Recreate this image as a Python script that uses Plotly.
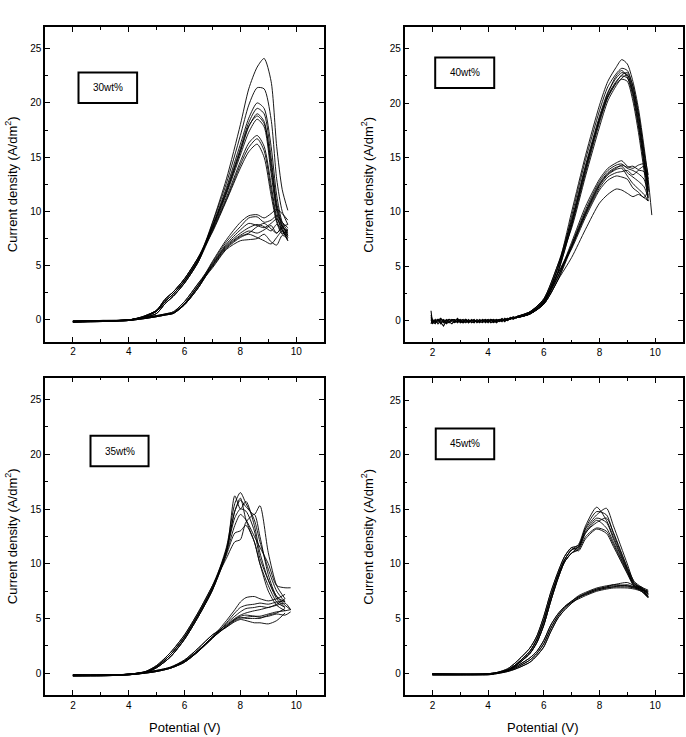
import plotly.graph_objects as go

# ---------------- data ----------------
# 30 wt%
x30 = [2.0, 3.0, 4.0, 4.5, 5.0, 5.3, 5.6, 6.0, 6.5, 7.0, 7.5, 8.0, 8.3, 8.6, 8.85, 9.1, 9.3, 9.5, 9.7]
pre30_up = [[-0.15, -0.1, 0.0, 0.25, 0.8, 1.7, 2.4, 3.6, 5.6],
            [-0.2, -0.1, -0.05, 0.2, 0.6, 1.5, 2.2, 3.4, 5.4],
            [-0.1, -0.05, 0.0, 0.3, 0.9, 1.9, 2.6, 3.8, 5.8]]
tail30_up = [[9.0, 13.0, 18.0, 21.3, 23.3, 24.1, 22.0, 16.0, 12.0, 10.1],
             [8.9, 12.6, 17.0, 19.8, 21.4, 21.3, 18.5, 13.0, 10.0, 8.8],
             [8.7, 12.2, 16.2, 18.6, 20.0, 19.5, 16.0, 11.5, 9.0, 8.2],
             [8.6, 12.0, 15.8, 18.2, 19.5, 19.0, 15.0, 10.8, 8.8, 7.8],
             [8.5, 11.8, 15.5, 17.8, 19.0, 18.3, 14.0, 10.3, 8.5, 7.6],
             [8.4, 11.6, 15.2, 17.3, 18.5, 17.8, 13.5, 10.0, 8.2, 8.0],
             [8.3, 11.3, 14.6, 16.3, 17.0, 16.0, 12.5, 9.5, 8.3, 7.3],
             [8.2, 11.1, 14.3, 15.9, 16.7, 15.6, 12.0, 9.2, 8.0, 7.8],
             [8.1, 11.0, 14.0, 15.5, 16.2, 15.0, 11.5, 9.0, 7.9, 8.4],
             [8.6, 11.8, 15.6, 17.9, 18.8, 18.1, 14.5, 10.5, 8.7, 8.1]]
pre30_lo = [[-0.15, -0.1, 0.0, 0.15, 0.35, 0.5, 0.65, 1.5, 3.2],
            [-0.2, -0.15, -0.05, 0.1, 0.3, 0.45, 0.6, 1.4, 3.0],
            [-0.1, -0.1, 0.0, 0.2, 0.4, 0.55, 0.75, 1.7, 3.4]]
tail30_lo = [[5.4, 7.4, 9.0, 9.6, 9.7, 9.4, 9.8, 10.2, 9.8, 9.2],
             [5.3, 7.2, 8.6, 9.4, 9.5, 9.0, 9.2, 9.6, 9.0, 8.5],
             [5.2, 7.0, 8.3, 8.9, 8.7, 8.5, 8.9, 9.3, 8.6, 8.0],
             [5.1, 6.9, 8.0, 8.5, 8.8, 8.6, 8.2, 8.8, 8.3, 7.6],
             [5.0, 6.8, 7.8, 8.2, 8.0, 8.3, 8.7, 8.0, 8.5, 7.8],
             [4.9, 6.6, 7.6, 7.9, 7.6, 7.3, 7.0, 7.6, 8.2, 7.3],
             [4.8, 6.5, 7.3, 7.4, 7.5, 7.9, 7.2, 6.9, 7.8, 7.5],
             [5.0, 6.7, 7.7, 8.0, 8.6, 8.9, 8.4, 8.0, 8.6, 8.8]]

# 40 wt%
x40_base = [1.95, 2.0, 2.1, 2.2, 2.3, 2.4, 2.5, 2.6, 2.7, 2.8, 2.9, 3.0, 3.1, 3.2, 3.3, 3.4,
            3.5, 3.6, 3.7, 3.8, 3.9, 4.0, 4.1, 4.2, 4.3, 4.4, 4.5, 4.6, 4.7, 4.8, 4.9, 5.0]
base40 = [[0.9, -0.2, 0.1, -0.3, 0.0, -0.2, 0.1, -0.1, -0.3, 0.0, 0.1, -0.2, -0.1, 0.0, -0.2, 0.1,
           -0.1, 0.0, -0.2, 0.1, -0.1, 0.0, -0.2, 0.0, 0.1, -0.1, 0.0, 0.1, 0.2, 0.1, 0.3, 0.3],
          [0.3, -0.1, -0.3, 0.1, -0.2, -0.5, 0.0, 0.1, -0.1, -0.2, 0.0, 0.1, -0.2, -0.1, 0.1, -0.2,
           0.0, -0.1, 0.1, -0.1, 0.0, -0.2, 0.1, -0.1, 0.0, 0.1, -0.1, 0.2, 0.0, 0.2, 0.2, 0.35],
          [-0.3, 0.1, -0.1, 0.0, 0.2, -0.1, -0.2, 0.1, 0.0, -0.1, 0.2, -0.1, 0.0, 0.1, -0.1, 0.0,
           0.1, -0.2, 0.0, 0.0, 0.1, -0.1, 0.0, 0.1, -0.1, 0.0, 0.2, 0.0, 0.1, 0.3, 0.2, 0.25],
          [0.5, 0.0, -0.2, -0.1, 0.1, 0.0, -0.3, -0.1, 0.1, 0.1, -0.2, 0.0, 0.1, -0.2, 0.0, -0.1,
           -0.2, 0.1, -0.1, -0.2, 0.0, 0.1, -0.1, -0.2, 0.0, 0.1, 0.1, -0.1, 0.2, 0.1, 0.35, 0.2],
          [0.1, -0.3, 0.0, 0.1, -0.3, 0.1, -0.1, -0.2, 0.1, -0.1, -0.1, 0.0, -0.2, 0.1, -0.2, 0.0,
           0.0, -0.1, -0.1, 0.1, -0.2, 0.0, 0.1, 0.0, -0.2, 0.0, 0.0, 0.1, 0.0, 0.25, 0.1, 0.3]]
x40 = [5.0, 5.5, 6.0, 6.5, 7.0, 7.5, 8.0, 8.3, 8.6, 8.8, 9.0, 9.2, 9.4, 9.6, 9.75, 9.88]
pre40_up = [[0.3, 0.7, 1.8, 4.8], [0.25, 0.6, 1.6, 4.4], [0.35, 0.8, 2.0, 5.1]]
tail40_up = [[10.0, 15.2, 19.8, 22.0, 23.3, 24.0, 23.6, 22.0, 19.5, 16.0, 13.0, 9.7],
             [9.6, 14.8, 19.3, 21.5, 22.7, 23.2, 23.0, 21.5, 19.0, 15.5, 12.5, None],
             [9.3, 14.3, 18.8, 21.0, 22.3, 22.8, 22.6, 21.0, 18.3, 14.8, 11.8, None],
             [9.0, 14.0, 18.5, 20.7, 22.0, 22.5, 22.3, 20.6, 17.8, 14.3, 11.3, None],
             [8.7, 13.6, 18.2, 20.5, 21.8, 22.2, 22.0, 20.2, 17.3, 13.8, 11.0, None],
             [8.5, 13.3, 17.8, 20.2, 21.6, 22.3, 22.6, 21.2, 18.6, 15.0, 12.0, None],
             [9.1, 14.1, 18.6, 20.9, 22.5, 23.0, 22.4, 20.9, 18.0, 14.6, 12.2, None],
             [8.8, 13.8, 18.4, 20.6, 21.9, 22.6, 22.8, 21.6, 19.0, 15.5, 13.4, None]]
pre40_lo = [[0.3, 0.7, 1.7, 4.0], [0.25, 0.6, 1.5, 3.7], [0.35, 0.8, 1.9, 4.3]]
tail40_lo = [[7.2, 10.5, 13.0, 14.0, 14.5, 14.7, 14.2, 14.0, 14.3, 14.4, 12.0, None],
             [7.0, 10.2, 12.8, 13.8, 14.3, 14.4, 14.0, 13.8, 13.5, 13.0, 11.5, None],
             [6.9, 10.0, 12.6, 13.6, 14.1, 14.2, 13.6, 13.2, 12.8, 12.3, 11.3, None],
             [6.8, 9.8, 12.4, 13.4, 13.9, 14.0, 13.3, 12.6, 12.1, 11.6, 11.0, None],
             [6.7, 9.7, 12.2, 13.2, 13.6, 13.7, 13.8, 13.4, 13.8, 13.7, 12.5, None],
             [6.6, 9.5, 12.0, 12.9, 13.3, 13.2, 13.0, 12.2, 11.8, 11.3, 12.0, None],
             [6.9, 9.9, 12.5, 13.5, 14.0, 14.3, 14.1, 14.2, 13.9, 14.2, 13.0, None],
             [5.8, 8.4, 10.8, 11.6, 12.1, 12.0, 11.7, 11.4, 11.6, 11.3, 11.0, None]]

# 35 wt%
x35 = [2.0, 3.0, 4.0, 4.6, 5.0, 5.5, 6.0, 6.5, 7.0, 7.5, 7.8, 8.0, 8.2, 8.5, 8.7, 9.0, 9.3, 9.6, 9.8]
pre35_up = [[-0.2, -0.2, -0.1, 0.1, 0.6, 1.7, 3.3, 5.4, 7.8],
            [-0.25, -0.25, -0.15, 0.05, 0.5, 1.5, 3.1, 5.2, 7.6],
            [-0.15, -0.2, -0.1, 0.15, 0.7, 1.9, 3.5, 5.6, 8.0]]
tail35_up = [[11.5, 15.5, 16.5, 15.5, 14.0, 12.0, 9.5, 7.5, 6.5, None],
             [11.3, 14.8, 15.8, 15.2, 14.5, 15.3, 11.0, 8.0, 6.8, None],
             [11.2, 14.2, 15.0, 14.8, 13.0, 10.5, 8.5, 7.0, 6.2, 5.8],
             [11.0, 13.5, 14.5, 14.0, 12.5, 11.5, 10.0, 8.0, 7.8, 7.8],
             [10.8, 12.8, 13.0, 13.5, 12.0, 10.0, 8.0, 6.5, 6.0, None],
             [10.5, 12.0, 12.2, 13.8, 14.5, 12.5, 9.0, 7.0, 6.5, None],
             [11.2, 14.8, 16.0, 14.0, 12.0, 10.0, 7.5, 6.2, 5.7, None],
             [11.0, 16.2, 15.0, 15.7, 13.5, 11.0, 8.5, 6.8, 6.0, None]]
pre35_lo = [[-0.2, -0.2, -0.1, 0.05, 0.2, 0.5, 1.1, 2.1, 3.3],
            [-0.25, -0.2, -0.15, 0.0, 0.15, 0.45, 1.0, 2.0, 3.2],
            [-0.15, -0.15, -0.1, 0.1, 0.25, 0.55, 1.2, 2.3, 3.5]]
tail35_lo = [[4.8, 5.8, 6.5, 6.9, 7.0, 6.8, 6.6, 6.8, 7.2, None],
             [4.6, 5.5, 6.0, 6.2, 6.3, 6.4, 6.3, 6.5, 6.6, None],
             [4.4, 5.0, 5.3, 5.5, 5.7, 5.8, 6.0, 6.2, 6.4, 5.8],
             [4.2, 4.8, 5.0, 5.1, 5.2, 5.2, 5.4, 5.6, 5.7, 5.8],
             [4.3, 4.9, 5.1, 5.0, 5.0, 5.0, 5.3, 5.5, 5.9, None],
             [4.2, 4.7, 4.9, 4.8, 4.6, 4.6, 4.5, 4.8, 5.5, None],
             [4.5, 5.2, 5.6, 5.9, 6.0, 6.1, 6.0, 6.3, 6.8, None],
             [4.3, 4.9, 5.2, 5.3, 5.2, 5.1, 5.2, 5.4, 5.3, 5.6]]

# 45 wt%
x45 = [2.0, 3.0, 4.0, 4.3, 4.7, 5.0, 5.5, 5.75, 6.0, 6.25, 6.5, 6.75, 7.0,
       7.25, 7.5, 7.9, 8.25, 8.5, 9.0, 9.25, 9.5, 9.75]
pre45_up = [[-0.1, -0.1, -0.1, 0.0, 0.3, 0.8, 2.0, 3.1, 4.8, 7.0, 8.9, 10.4, 11.3],
            [-0.15, -0.15, -0.1, 0.0, 0.25, 0.7, 1.8, 2.8, 4.4, 6.6, 8.6, 10.2, 11.0],
            [-0.05, -0.1, -0.05, 0.05, 0.4, 1.0, 2.3, 3.4, 5.2, 7.4, 9.2, 10.7, 11.5]]
tail45_up = [[11.8, 13.5, 15.2, 14.0, 12.5, 9.5, 8.2, 7.8, 7.2],
             [11.6, 13.2, 14.5, 15.1, 13.5, 10.0, 8.3, 7.8, 7.5],
             [11.7, 13.0, 14.2, 13.8, 12.3, 9.4, 8.0, 7.7, 7.0],
             [11.5, 12.8, 14.0, 13.3, 12.0, 9.3, 8.1, 7.9, 7.3],
             [11.3, 12.5, 13.3, 13.0, 11.8, 9.2, 8.0, 7.6, 6.9],
             [11.2, 12.3, 13.2, 12.8, 11.6, 9.1, 7.9, 7.5, 7.0],
             [11.6, 13.3, 14.8, 14.5, 12.8, 9.6, 8.2, 7.7, 7.4],
             [11.4, 12.9, 13.8, 14.2, 12.9, 9.7, 8.4, 7.9, 7.6]]
pre45_lo = [[-0.1, -0.1, -0.1, 0.0, 0.2, 0.5, 1.2, 1.8, 2.7, 4.1, 5.2, 6.0, 6.5],
            [-0.15, -0.15, -0.15, -0.05, 0.15, 0.4, 1.0, 1.6, 2.4, 3.8, 5.0, 5.8, 6.4],
            [-0.05, -0.1, -0.05, 0.05, 0.25, 0.6, 1.4, 2.0, 3.0, 4.4, 5.4, 6.1, 6.6]]
tail45_lo = [[7.0, 7.3, 7.7, 7.9, 8.0, 8.0, 7.9, 7.6, 7.1],
             [6.9, 7.2, 7.6, 7.8, 7.9, 7.9, 7.8, 7.7, 7.3],
             [7.1, 7.4, 7.8, 8.0, 8.1, 8.3, 8.0, 7.8, 7.2],
             [6.8, 7.1, 7.5, 7.7, 7.8, 7.8, 7.7, 7.5, 6.9],
             [6.9, 7.3, 7.7, 7.9, 8.1, 8.0, 7.8, 7.6, 7.5],
             [7.0, 7.2, 7.6, 7.8, 7.9, 8.1, 7.9, 7.8, 7.0]]

labels = ["30wt%", "40wt%", "35wt%", "45wt%"]
# label box corners in data units [x0, x1, y0, y1]
label_boxes = [[2.2, 4.3, 20.0, 22.8], [2.1, 4.22, 21.4, 24.2],
               [2.63, 4.71, 18.9, 21.7], [2.12, 4.22, 19.6, 22.4]]

# ---------------- figure ----------------
fig = go.Figure()
LINE = dict(color="black", width=0.9)

def add_group(x, prefixes, tails, xa, ya):
    for i, t in enumerate(tails):
        y = prefixes[i % len(prefixes)] + t
        fig.add_trace(go.Scatter(x=x, y=y, mode="lines", line=dict(LINE, shape="spline", smoothing=0.7),
                                 xaxis=xa, yaxis=ya, showlegend=False, hoverinfo="skip"))

# panel 1: 30 wt% (x, y)
add_group(x30, pre30_up, tail30_up, "x", "y")
add_group(x30, pre30_lo, tail30_lo, "x", "y")
# panel 2: 40 wt% (x2, y2)
for b in base40:
    fig.add_trace(go.Scatter(x=x40_base, y=b, mode="lines", line=dict(color="black", width=1.1),
                             xaxis="x2", yaxis="y2", showlegend=False, hoverinfo="skip"))
add_group(x40, pre40_up, tail40_up, "x2", "y2")
add_group(x40, pre40_lo, tail40_lo, "x2", "y2")
# panel 3: 35 wt% (x3, y3)
add_group(x35, pre35_up, tail35_up, "x3", "y3")
add_group(x35, pre35_lo, tail35_lo, "x3", "y3")
# panel 4: 45 wt% (x4, y4)
add_group(x45, pre45_up, tail45_up, "x4", "y4")
add_group(x45, pre45_lo, tail45_lo, "x4", "y4")

FONT = "Liberation Sans, Arial, sans-serif"
xdom = [[0.0, 0.4375], [0.5636, 1.0], [0.0, 0.4375], [0.5636, 1.0]]
ydom = [[0.529, 1.0], [0.528, 1.0], [0.0, 0.475], [0.0, 0.474]]

def xax(dom, anchor):
    return dict(domain=dom, anchor=anchor, range=[1, 11], tickvals=[2, 4, 6, 8, 10],
                ticks="inside", ticklen=5, tickwidth=1, tickcolor="black",
                minor=dict(ticks="inside", ticklen=3, tickvals=[1, 3, 5, 7, 9, 11], tickcolor="black"),
                showline=True, linecolor="black", linewidth=1.5, mirror="ticks",
                showgrid=False, zeroline=False, tickfont=dict(size=10, color="black", family=FONT))

def yax(dom, anchor):
    return dict(domain=dom, anchor=anchor, range=[-2, 27], tickvals=[0, 5, 10, 15, 20, 25],
                ticks="inside", ticklen=5, tickwidth=1, tickcolor="black",
                minor=dict(ticks="inside", ticklen=3, tickvals=[2.5, 7.5, 12.5, 17.5, 22.5], tickcolor="black"),
                showline=True, linecolor="black", linewidth=1.5, mirror="ticks",
                showgrid=False, zeroline=False, tickfont=dict(size=10, color="black", family=FONT))

fig.update_layout(
    width=686, height=737, margin=dict(l=45, r=1, t=27, b=42),
    paper_bgcolor="white", plot_bgcolor="white",
    font=dict(family=FONT, color="black"),
    xaxis=xax(xdom[0], "y"), yaxis=yax(ydom[0], "x"),
    xaxis2=xax(xdom[1], "y2"), yaxis2=yax(ydom[1], "x2"),
    xaxis3=xax(xdom[2], "y3"), yaxis3=yax(ydom[2], "x3"),
    xaxis4=xax(xdom[3], "y4"), yaxis4=yax(ydom[3], "x4"),
)

axes_ids = [("x", "y"), ("x2", "y2"), ("x3", "y3"), ("x4", "y4")]
for (xa, ya), lab, box in zip(axes_ids, labels, label_boxes):
    fig.add_shape(type="rect", xref=xa, yref=ya, x0=box[0], x1=box[1], y0=box[2], y1=box[3],
                  line=dict(color="black", width=2), fillcolor="white", layer="above")
    fig.add_annotation(x=(box[0] + box[1]) / 2, y=(box[2] + box[3]) / 2, xref=xa, yref=ya,
                       xanchor="center", yanchor="middle",
                       text=lab, showarrow=False, font=dict(size=10, color="black", family=FONT))

ytitle = "Current density (A/dm<sup>2</sup>)"
for xp, yc in [(-0.052, 0.7645), (0.5047, 0.764), (-0.052, 0.2375), (0.5047, 0.237)]:
    fig.add_annotation(x=xp, y=yc, xref="paper", yref="paper", text=ytitle, textangle=-90,
                       xanchor="center", yanchor="middle",
                       showarrow=False, font=dict(size=13, color="black", family=FONT))
for xc in [0.2188, 0.78]:
    fig.add_annotation(x=xc, y=-0.048, xref="paper", yref="paper", text="Potential (V)",
                       xanchor="center", yanchor="middle",
                       showarrow=False, font=dict(size=13, color="black", family=FONT))

fig.write_html("out.html")
